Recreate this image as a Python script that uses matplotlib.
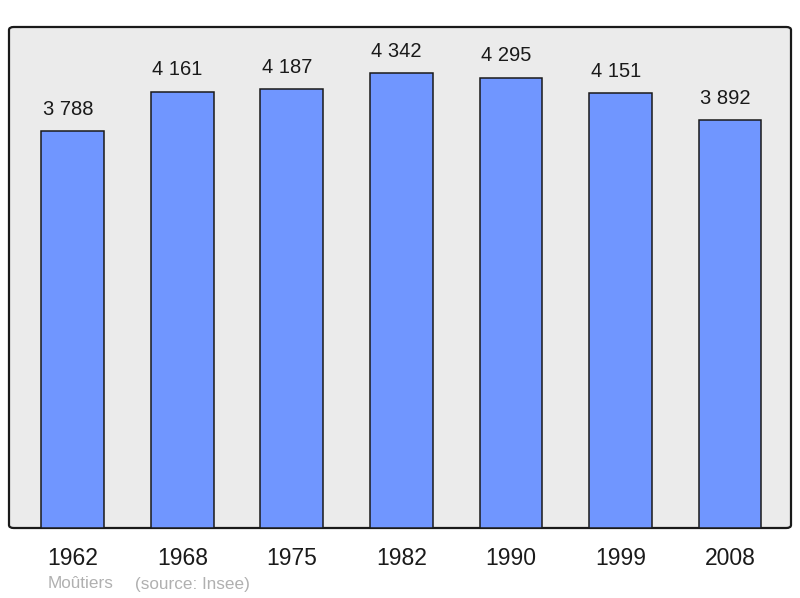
import matplotlib
matplotlib.use("Agg")
import matplotlib.pyplot as plt
from matplotlib.patches import FancyBboxPatch

years = ["1962", "1968", "1975", "1982", "1990", "1999", "2008"]
population = [3788, 4161, 4187, 4342, 4295, 4151, 3892]
value_labels = ["3 788", "4 161", "4 187", "4 342", "4 295", "4 151", "3 892"]
town = "Moûtiers"
source = "(source: Insee)"

plt.rcParams['font.family'] = ['Liberation Sans', 'DejaVu Sans']

fig = plt.figure(figsize=(8, 5.98), dpi=100)
W, H = 800, 598
ax = fig.add_axes([9 / W, (H - 528) / H, 782 / W, 501 / H])
ax.set_xlim(-0.584, 6.557)
ax.set_ylim(0, 4781)
ax.axis('off')

bg = FancyBboxPatch((0, 0), 1, 1, boxstyle="round,pad=0,rounding_size=0.006",
                    transform=ax.transAxes, facecolor="#ebebeb", edgecolor="#1a1a1a",
                    linewidth=1.6, zorder=0, clip_on=False)
ax.add_patch(bg)

x = list(range(len(years)))
ax.bar(x, population, width=0.575, color="#7096ff", edgecolor="#1a1a1a",
       linewidth=1.1, zorder=2)

for xi, v, lab in zip(x, population, value_labels):
    ax.annotate(lab, (xi, v), xytext=(-3.5, 9), textcoords="offset points",
                ha="center", va="bottom", fontsize=14.5, color="#1a1a1a")

for xi, yr in zip(x, years):
    ax.annotate(yr, (xi, 0), xytext=(0, -22), textcoords="offset points",
                ha="center", va="center", fontsize=16.5, color="#1a1a1a",
                annotation_clip=False)

fig.text(48 / W, 1 - 584 / H, town, ha="left", va="center", fontsize=12.3, color="#b0b0b0")
fig.text(135 / W, 1 - 584 / H, source, ha="left", va="center", fontsize=12.3, color="#b0b0b0")

fig.savefig("out.png", dpi=100)
